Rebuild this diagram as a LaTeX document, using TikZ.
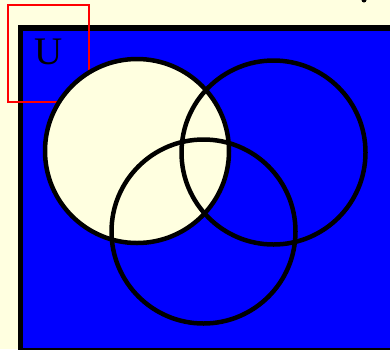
\documentclass[tikz,border=0pt]{standalone}
\usepackage{fontspec}
\setmainfont{Liberation Serif}
\definecolor{cream}{RGB}{255,255,224}
\begin{document}
\begin{tikzpicture}[x=1pt, y=-1pt]
  \useasboundingbox[fill=cream] (0,0) rectangle (390,349);
  \clip (0,0) rectangle (390,349);
  \fill (364,0) circle (2.5);
  \draw[line width=5.5pt, fill=blue] (20.5,28) rectangle (410,351);
  \draw[red, line width=2.5pt] (8,5) rectangle (89,102);
  \node[inner sep=0pt] (u) at (48.5,51.5) {\fontsize{39}{40}\selectfont U};
  \draw[line width=4.5pt, fill=cream] (137,151) circle (92);
  \draw[line width=4.5pt] (273.5,152.5) circle (92);
  \draw[line width=4.5pt] (203.5,231.5) circle (92);
\end{tikzpicture}
\end{document}
